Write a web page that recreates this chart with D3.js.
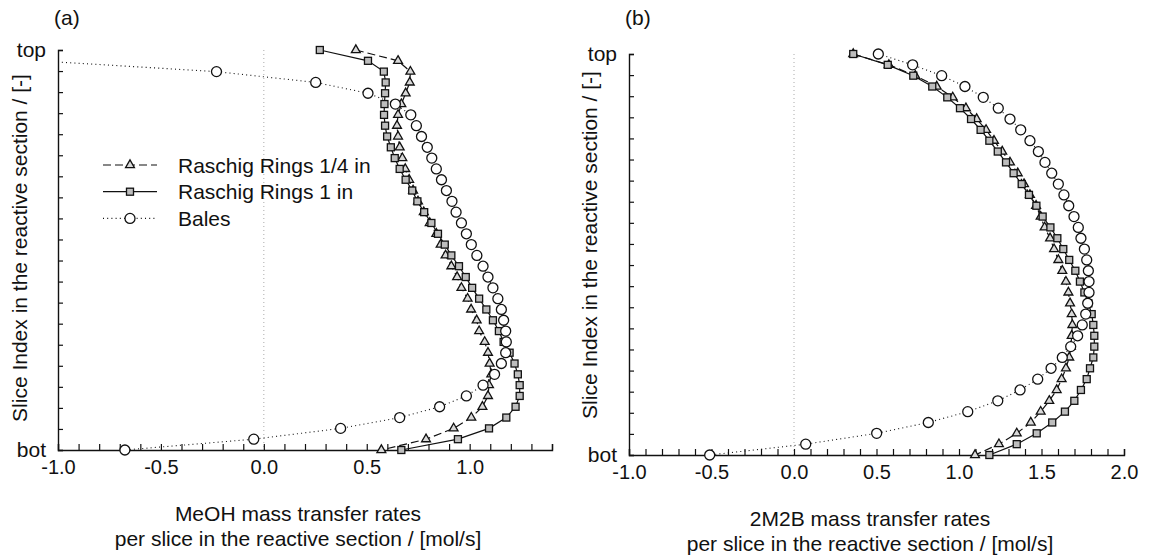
<!DOCTYPE html>
<html>
<head>
<meta charset="utf-8">
<script src="https://cdn.jsdelivr.net/npm/d3@7.9.0/dist/d3.min.js"></script>
<style>
  body { margin: 0; background: #fff; }
  svg { display: block; font-family: "Liberation Sans", Arial, Helvetica, sans-serif; }
</style>
</head>
<body>
<svg id="chart" width="1149" height="556"></svg>
<script>
// slice index 0 = top ... 37 = bot
const slices = d3.range(38);

// (a) MeOH mass transfer rates [mol/s]
const meohRaschigQuarter = [
  0.447, 0.652, 0.712, 0.709, 0.689, 0.668, 0.652, 0.647, 0.652, 0.660,
  0.673, 0.687, 0.706, 0.725, 0.749, 0.777, 0.806, 0.838, 0.859, 0.883,
  0.911, 0.939, 0.960, 0.990, 1.007, 1.034, 1.046, 1.073, 1.089, 1.097,
  1.105, 1.094, 1.089, 1.062, 1.008, 0.922, 0.788, 0.571
];
const meohRaschigOne = [
  0.272, 0.506, 0.583, 0.592, 0.589, 0.586, 0.584, 0.589, 0.599, 0.617,
  0.636, 0.660, 0.689, 0.721, 0.746, 0.779, 0.814, 0.846, 0.879, 0.911,
  0.948, 0.981, 1.012, 1.046, 1.081, 1.113, 1.142, 1.165, 1.194, 1.218,
  1.234, 1.243, 1.243, 1.223, 1.178, 1.094, 0.943, 0.668
];
const meohBales = [
  -2.0, -1.1, -0.230, 0.252, 0.506, 0.639, 0.714, 0.741, 0.766, 0.794,
  0.816, 0.838, 0.863, 0.887, 0.914, 0.934, 0.960, 0.984, 1.008, 1.035,
  1.065, 1.089, 1.113, 1.137, 1.154, 1.165, 1.175, 1.178, 1.175, 1.154,
  1.121, 1.065, 0.984, 0.854, 0.660, 0.373, -0.049, -0.675
];

// (b) 2M2B mass transfer rates [mol/s]
const m2bRaschigQuarter = [
  0.359, 0.575, 0.735, 0.865, 0.962, 1.042, 1.107, 1.164, 1.212, 1.262,
  1.309, 1.356, 1.394, 1.430, 1.467, 1.495, 1.519, 1.552, 1.576, 1.602,
  1.626, 1.648, 1.663, 1.673, 1.683, 1.687, 1.683, 1.678, 1.668, 1.648,
  1.622, 1.592, 1.547, 1.495, 1.435, 1.350, 1.242, 1.097
];
const m2bRaschigOne = [
  0.359, 0.568, 0.723, 0.838, 0.929, 1.006, 1.073, 1.131, 1.184, 1.235,
  1.285, 1.331, 1.380, 1.424, 1.469, 1.507, 1.554, 1.596, 1.632, 1.668,
  1.705, 1.733, 1.760, 1.784, 1.804, 1.814, 1.820, 1.820, 1.814, 1.794,
  1.774, 1.739, 1.699, 1.642, 1.565, 1.471, 1.350, 1.184
];
const m2bBales = [
  0.511, 0.719, 0.895, 1.036, 1.147, 1.238, 1.309, 1.374, 1.430, 1.481,
  1.521, 1.562, 1.602, 1.636, 1.665, 1.697, 1.723, 1.739, 1.760, 1.774,
  1.784, 1.788, 1.788, 1.780, 1.768, 1.747, 1.719, 1.677, 1.626, 1.558,
  1.477, 1.370, 1.235, 1.053, 0.814, 0.501, 0.071, -0.511
];

const seriesNames = ["Raschig Rings 1/4 in", "Raschig Rings 1 in", "Bales"];
const xLabelsA = ["MeOH mass transfer rates", "per slice in the reactive section / [mol/s]"];
const xLabelsB = ["2M2B mass transfer rates", "per slice in the reactive section / [mol/s]"];
const yLabel = "Slice Index  in the reactive section / [-]";

const svg = d3.select("#chart");

// marker + line style per series
const styles = [
  { dash: "8,4", marker: "triangle", fill: "#d9d9d9" },
  { dash: null, marker: "square", fill: "#bdbdbd" },
  { dash: "1,3.2", marker: "circle", fill: "#fff" }
];

function drawMarker(g, type, fill, cx, cy) {
  if (type === "triangle") {
    g.append("path")
      .attr("d", d3.symbol(d3.symbolTriangle, 34)())
      .attr("transform", `translate(${cx},${cy})`)
      .attr("fill", fill).attr("stroke", "#111").attr("stroke-width", 1.3);
  } else if (type === "square") {
    g.append("rect")
      .attr("x", cx - 3.5).attr("y", cy - 3.5).attr("width", 7).attr("height", 7)
      .attr("fill", fill).attr("stroke", "#111").attr("stroke-width", 1.3);
  } else {
    g.append("circle")
      .attr("cx", cx).attr("cy", cy).attr("r", 5)
      .attr("fill", fill).attr("stroke", "#111").attr("stroke-width", 1.3);
  }
}

function panel(opts) {
  const { id, xDomain, xRange, yRange, series, label, titleLines, titleX, titleY, yTitleX, yTitleY, legend } = opts;
  const x = d3.scaleLinear().domain(xDomain).range(xRange);
  const y = d3.scaleLinear().domain([0, 37]).range(yRange);
  const yTick = d3.scaleLinear().domain([0, 19]).range(yRange);

  const g = svg.append("g");

  g.append("defs").append("clipPath").attr("id", "clip-" + id)
    .append("rect")
    .attr("x", xRange[0]).attr("y", yRange[0] - 8)
    .attr("width", xRange[1] - xRange[0] + 10).attr("height", yRange[1] - yRange[0] + 16);

  // dotted zero line
  g.append("line")
    .attr("x1", x(0)).attr("x2", x(0))
    .attr("y1", yRange[0]).attr("y2", yRange[1])
    .attr("stroke", "#aaa").attr("stroke-width", 1).attr("stroke-dasharray", "1,3");

  // y axis
  const yAxis = d3.axisLeft(yTick)
    .tickValues(d3.range(20))
    .tickSize(-5).tickPadding(12)
    .tickFormat((d) => (d === 0 ? "top" : d === 19 ? "bot" : ""));
  const ya = g.append("g").attr("transform", `translate(${xRange[0]},0)`).call(yAxis);
  ya.select(".domain").attr("stroke", "#111").attr("stroke-width", 1.4);
  ya.selectAll(".tick line").attr("stroke", "#111").attr("stroke-width", 1.2);
  ya.selectAll("text").attr("font-size", 21).attr("fill", "#111").attr("font-family", null);

  // x axis, minor ticks every 0.1, labels every 0.5 (plain hyphen minus)
  const nT = Math.round((xDomain[1] - xDomain[0]) * 10);
  const xt = d3.range(nT + 1).map((i) => Math.round((xDomain[0] * 10 + i)) / 10);
  const xAxis = d3.axisBottom(x)
    .tickValues(xt)
    .tickSize(-6).tickPadding(10)
    .tickFormat((d) => (Math.abs(Math.round(d * 10) % 5) === 0 ? (d === 0 ? "0.0" : d.toFixed(1)) : ""));
  const xa = g.append("g").attr("transform", `translate(0,${yRange[1]})`).call(xAxis);
  xa.select(".domain").attr("stroke", "#111").attr("stroke-width", 1.4);
  xa.selectAll(".tick line").attr("stroke", "#111").attr("stroke-width", 1.2);
  xa.selectAll("text").attr("font-size", 20).attr("fill", "#111").attr("font-family", null);

  // series
  const plot = g.append("g").attr("clip-path", `url(#clip-${id})`);
  const line = d3.line().x((d) => x(d[1])).y((d) => y(d[0]));
  series.forEach((vals, k) => {
    const pts = slices.map((i) => [i, vals[i]]);
    plot.append("path")
      .datum(pts)
      .attr("d", line)
      .attr("fill", "none")
      .attr("stroke", "#111")
      .attr("stroke-width", k === 2 ? 1.1 : 1.2)
      .attr("stroke-dasharray", styles[k].dash);
  });
  series.forEach((vals, k) => {
    const mg = plot.append("g");
    slices.forEach((i) => {
      if (vals[i] < xDomain[0] - 0.05) return;
      drawMarker(mg, styles[k].marker, styles[k].fill, x(vals[i]), y(i));
    });
  });

  // panel label
  g.append("text").attr("x", xRange[0] - 4).attr("y", 25)
    .attr("font-size", 21).attr("fill", "#111").text(label);

  // x title
  titleLines.forEach((t, i) => {
    g.append("text").attr("x", titleX).attr("y", titleY + i * 25)
      .attr("text-anchor", "middle").attr("font-size", 21).attr("fill", "#111").text(t);
  });

  // y title
  g.append("text")
    .attr("transform", `translate(${yTitleX},${yTitleY}) rotate(-90)`)
    .attr("text-anchor", "middle").attr("font-size", 21).attr("fill", "#111")
    .text(yLabel);

  if (legend) {
    const lg = g.append("g");
    seriesNames.forEach((name, k) => {
      const ly = 165 + k * 26.7;
      lg.append("line").attr("x1", 103).attr("x2", 157).attr("y1", ly).attr("y2", ly)
        .attr("stroke", "#111").attr("stroke-width", k === 2 ? 1.1 : 1.2)
        .attr("stroke-dasharray", styles[k].dash);
      drawMarker(lg, styles[k].marker, styles[k].fill, 130, ly);
      lg.append("text").attr("x", 178).attr("y", ly + 7.5)
        .attr("font-size", 21).attr("fill", "#111").text(name);
    });
  }
}

panel({
  id: "a", xDomain: [-1.0, 1.4], xRange: [58, 552], yRange: [50, 450],
  series: [meohRaschigQuarter, meohRaschigOne, meohBales],
  label: "(a)", titleLines: xLabelsA, titleX: 298, titleY: 521, yTitleX: 27, yTitleY: 248, legend: true
});
panel({
  id: "b", xDomain: [-1.0, 2.0], xRange: [629, 1124], yRange: [54, 455],
  series: [m2bRaschigQuarter, m2bRaschigOne, m2bBales],
  label: "(b)", titleLines: xLabelsB, titleX: 870, titleY: 526, yTitleX: 597, yTitleY: 245, legend: false
});
</script>
</body>
</html>
